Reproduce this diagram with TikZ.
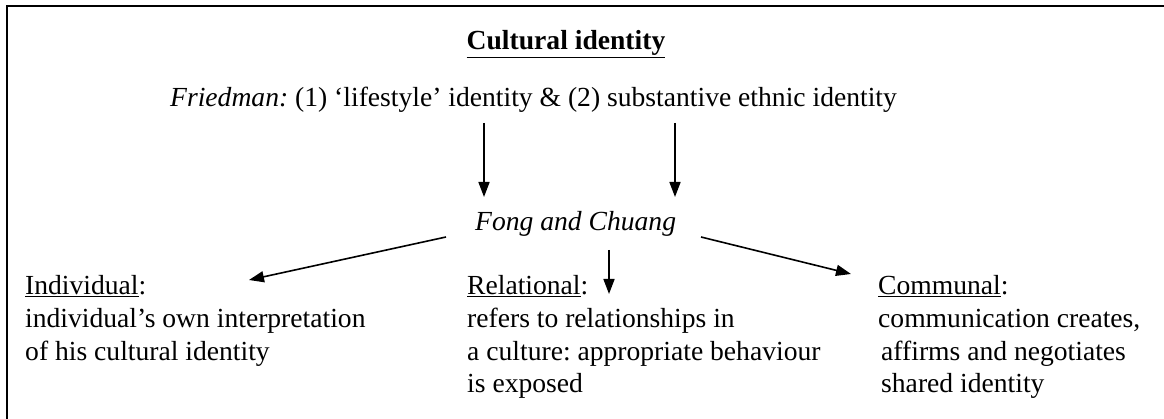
\documentclass[tikz,border=0pt]{standalone}
\usepackage{fontspec}
\setmainfont{Liberation Serif}
\usetikzlibrary{arrows.meta}
\begin{document}
\frenchspacing
\begin{tikzpicture}[x=1pt,y=-1pt,
  txt/.style={anchor=base west,inner sep=0pt,font=\fontsize{27.6}{32.5}\selectfont},
  arr/.style={line width=1.6pt,-{Triangle[length=15pt,width=11pt]}},
  frame/.style={line width=2pt}]
\useasboundingbox (0,0) rectangle (1164,419);
\draw[frame] (7,419) -- (7,6) -- (1164,6);
\node[txt,anchor=base] (title) at (566,50) {\textbf{\underline{Cultural identity}}};
\node[txt] (fried) at (170,107) {\textit{Friedman:} (1) `lifestyle' identity \& (2) substantive ethnic identity};
\node[txt] (fong) at (475,231) {\textit{Fong and Chuang}};
\node[txt] (ind1) at (25,295) {\underline{Individual}:};
\node[txt] (ind2) at (25,327.5) {individual’s own interpretation};
\node[txt] (ind3) at (25,360) {of his cultural identity};
\node[txt] (rel1) at (467,295) {\underline{Relational}:};
\node[txt] (rel2) at (467,327.5) {refers to relationships in};
\node[txt] (rel3) at (467,360) {a culture: appropriate behaviour};
\node[txt] (rel4) at (467,392.5) {is exposed};
\node[txt] (com1) at (878,295) {\underline{Communal}:};
\node[txt] (com2) at (878,327.5) {communication creates,};
\node[txt] (com3) at (881,360) {affirms and negotiates};
\node[txt] (com4) at (881,392.5) {shared identity};
\coordinate (a1s) at (484,123);
\coordinate (a1e) at (484,197);
\coordinate (a2s) at (675,123);
\coordinate (a2e) at (675,197);
\coordinate (d1s) at (446,237);
\coordinate (d1e) at (249,280);
\coordinate (d2s) at (701,237);
\coordinate (d2e) at (851,274);
\coordinate (r1s) at (609,250);
\coordinate (r1e) at (609,294);
\draw[arr] (a1s) -- (a1e);
\draw[arr] (a2s) -- (a2e);
\draw[arr] (d1s) -- (d1e);
\draw[arr] (d2s) -- (d2e);
\draw[arr] (r1s) -- (r1e);
\end{tikzpicture}
\end{document}
